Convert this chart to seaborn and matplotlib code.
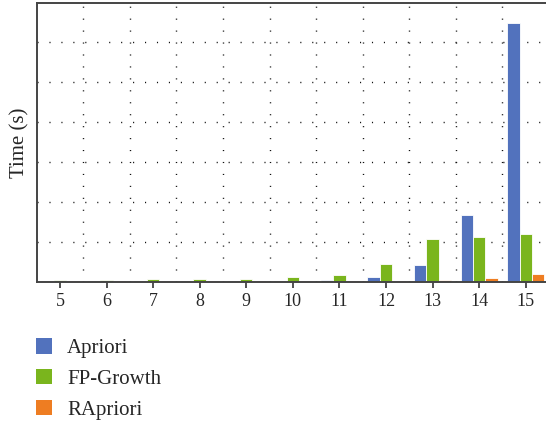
import pandas as pd
import numpy as np
import matplotlib.pyplot as plt
import seaborn as sns
from matplotlib.patches import Patch

# ---- data ----
sizes = ["5", "6", "7", "8", "9", "10", "11", "12", "13", "14", "15"]
apriori = [0.015, 0.015, 0.015, 0.015, 0.015, 0.02, 0.04, 0.125, 0.42, 1.68, 6.47]
fp_growth = [0.05, 0.05, 0.075, 0.075, 0.075, 0.125, 0.175, 0.45, 1.075, 1.125, 1.2]
rapriori = [0.015, 0.015, 0.015, 0.015, 0.015, 0.015, 0.02, 0.02, 0.06, 0.11, 0.2]

algos = ["Apriori", "FP-Growth", "RApriori"]
colors = ["#5272bd", "#7ab51d", "#ee7d22"]

df = pd.DataFrame({
    "size": sizes * 3,
    "time": apriori + fp_growth + rapriori,
    "algo": np.repeat(algos, len(sizes)),
})

sns.set_style("white")
plt.rcParams["font.family"] = ["Liberation Serif", "DejaVu Serif"]

fig = plt.figure(figsize=(5.46, 4.22), dpi=100)
ax = fig.add_axes([0.0672, 0.3318, 0.9383, 0.661])

sns.barplot(
    data=df, x="size", y="time", hue="algo",
    order=sizes, hue_order=algos, palette=colors, saturation=1,
    width=0.8, edgecolor="white", linewidth=0.6,
    legend=False, ax=ax
)

ax.set_xlim(-0.5, 10.5)
ax.set_ylim(0, 6.98)

# dotted grid: horizontal at major y, vertical between categories
ax.set_yticks(range(1, 7))
ax.set_yticklabels([])
ax.set_xticks(np.arange(0.5, 10.5, 1), minor=True)
ax.grid(True, which="major", axis="y", color="#111111",
        linestyle=(0, (0.8, 7.8)), linewidth=1.0)
ax.grid(True, which="minor", axis="x", color="#111111",
        linestyle=(0, (0.8, 7.8)), linewidth=1.0)
ax.set_axisbelow(True)

ax.tick_params(axis="y", length=0)
ax.tick_params(axis="x", which="major", length=4, width=1.2,
               color="#333333", labelsize=13, pad=4, bottom=True)
ax.tick_params(axis="x", which="minor", length=0)

for side in ["left", "bottom", "top", "right"]:
    ax.spines[side].set_color("#444444")
    ax.spines[side].set_linewidth(1.4)

ax.set_xlabel("")
ax.set_ylabel("Time (s)", fontsize=15, labelpad=1.5)

handles = [Patch(facecolor=c, edgecolor="none") for c in colors]
fig.legend(
    handles, algos,
    loc="upper left",
    bbox_to_anchor=(0.0659, 0.199),
    frameon=False,
    fontsize=15,
    borderpad=0,
    borderaxespad=0,
    handlelength=0.77,
    handleheight=0.77,
    handletextpad=0.72,
    labelspacing=0.52,
)

fig.savefig("out.png", dpi=100)
